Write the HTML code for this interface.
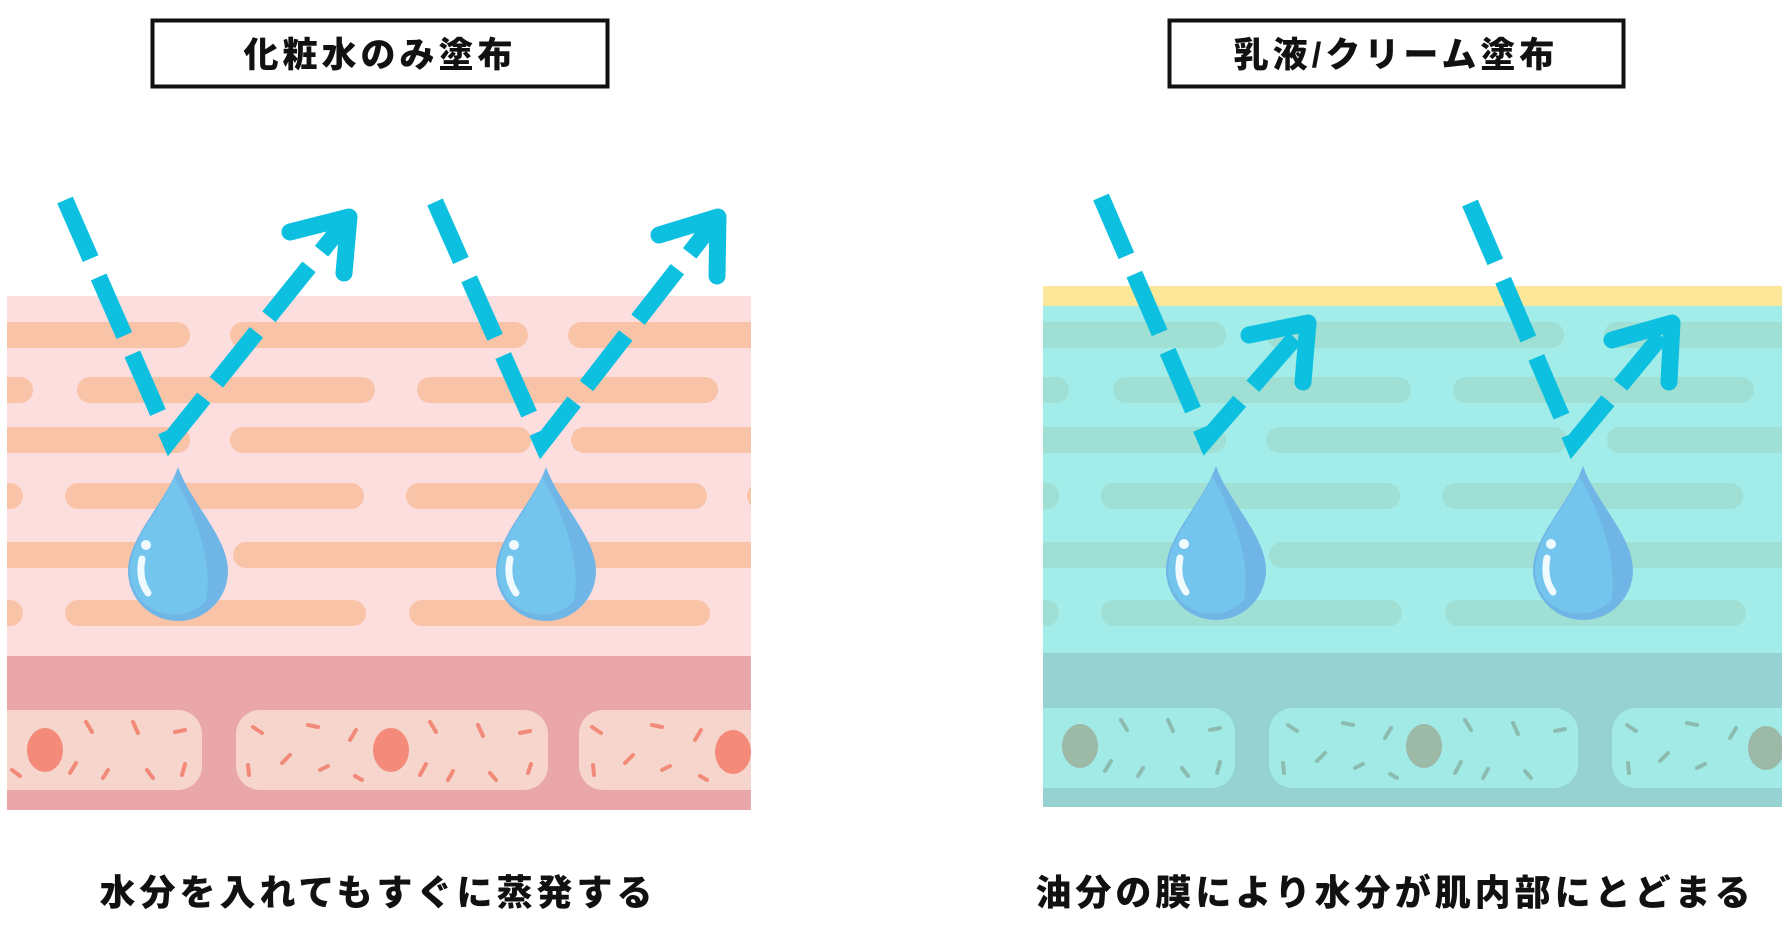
<!DOCTYPE html>
<html><head><meta charset="utf-8"><style>
html,body{margin:0;padding:0;background:#fff;}
body{width:1782px;height:921px;overflow:hidden;}
</style></head><body>
<svg width="1782" height="921" viewBox="0 0 1782 921" xmlns="http://www.w3.org/2000/svg">
<defs>
<clipPath id="cl"><rect x="7" y="296" width="744" height="514"/></clipPath>
<clipPath id="cr"><rect x="1043" y="296" width="739" height="511"/></clipPath>
<g id="streaksL">
<g stroke-linecap="round" stroke-width="26">
<line x1="-10" y1="335" x2="177" y2="335"/><line x1="243" y1="335" x2="515" y2="335"/><line x1="581" y1="335" x2="800" y2="335"/>
<line x1="-10" y1="390" x2="20" y2="390"/><line x1="90" y1="390" x2="362" y2="390"/><line x1="430" y1="390" x2="705" y2="390"/>
<line x1="-10" y1="440" x2="177" y2="440"/><line x1="243" y1="440" x2="518" y2="440"/><line x1="584" y1="440" x2="800" y2="440"/>
<line x1="-10" y1="496" x2="10" y2="496"/><line x1="78" y1="496" x2="351" y2="496"/><line x1="419" y1="496" x2="694" y2="496"/><line x1="760" y1="496" x2="800" y2="496"/>
<line x1="-10" y1="555" x2="177" y2="555"/><line x1="246" y1="555" x2="518" y2="555"/><line x1="584" y1="555" x2="800" y2="555"/>
<line x1="-10" y1="613" x2="10" y2="613"/><line x1="78" y1="613" x2="353" y2="613"/><line x1="422" y1="613" x2="697" y2="613"/>
</g></g>
<g id="drop">
<path d="M0,0 C12,35 50,70 50,104 A50,50 0 0 1 -50,104 C-50,70 -12,35 0,0Z" fill="#6fb6e6"/>
<path d="M-4,10 C-15,40 -48,70 -48,106 A44,44 0 0 0 28,134 C35,100 20,50 -4,10Z" fill="#74c5ee"/>
<circle cx="-32" cy="78" r="5" fill="#f0fbff"/>
<path d="M-36,92 Q-40,112 -30,126" stroke="#f0fbff" stroke-width="7" fill="none" stroke-linecap="round"/>
</g>
</defs>

<!-- LEFT -->
<rect x="152.5" y="20.5" width="455" height="66" fill="#fff" stroke="#111" stroke-width="4"/>
<text x="380" y="67" text-anchor="middle" font-family="Liberation Sans, Noto Sans CJK JP, sans-serif" font-weight="900" font-size="35" letter-spacing="4" fill="#111">化粧水のみ塗布</text>
<g clip-path="url(#cl)">
<rect x="7" y="296" width="744" height="360" fill="#fcdede"/>
<g stroke="#f9c3a7"><use href="#streaksL"/></g>
<rect x="7" y="656" width="744" height="154" fill="#e9a6ab"/>
<rect x="-20" y="710" width="222" height="80" rx="24" fill="#f5d5cc"/>
<rect x="236" y="710" width="312" height="80" rx="24" fill="#f5d5cc"/>
<rect x="579" y="710" width="200" height="80" rx="24" fill="#f5d5cc"/>
<ellipse cx="45" cy="750" rx="18" ry="22" fill="#f48a7a"/>
<ellipse cx="391" cy="750" rx="18" ry="22" fill="#f48a7a"/>
<ellipse cx="733" cy="752" rx="18" ry="22" fill="#f48a7a"/>
<g stroke="#f28a7a" stroke-width="4" stroke-linecap="round">
<line x1="86" y1="722" x2="92" y2="732"/><line x1="133" y1="722" x2="138" y2="733"/><line x1="175" y1="732" x2="185" y2="730"/><line x1="70" y1="773" x2="76" y2="763"/><line x1="103" y1="778" x2="108" y2="770"/><line x1="147" y1="770" x2="153" y2="778"/><line x1="182" y1="775" x2="185" y2="764"/><line x1="12" y1="770" x2="20" y2="776"/>
<line x1="253" y1="727" x2="262" y2="733"/><line x1="308" y1="725" x2="318" y2="727"/><line x1="350" y1="740" x2="356" y2="730"/><line x1="282" y1="763" x2="290" y2="755"/><line x1="248" y1="765" x2="249" y2="775"/><line x1="320" y1="770" x2="328" y2="766"/><line x1="355" y1="776" x2="362" y2="780"/><line x1="420" y1="775" x2="426" y2="764"/><line x1="448" y1="780" x2="453" y2="771"/><line x1="430" y1="722" x2="436" y2="732"/><line x1="478" y1="725" x2="483" y2="736"/><line x1="490" y1="773" x2="496" y2="780"/><line x1="520" y1="733" x2="530" y2="731"/><line x1="528" y1="773" x2="531" y2="764"/>
<line x1="592" y1="727" x2="601" y2="733"/><line x1="652" y1="725" x2="662" y2="727"/><line x1="695" y1="740" x2="701" y2="730"/><line x1="625" y1="763" x2="633" y2="755"/><line x1="593" y1="765" x2="594" y2="775"/><line x1="662" y1="770" x2="670" y2="766"/><line x1="700" y1="776" x2="707" y2="780"/>
</g>
</g>
<use href="#drop" x="178" y="467"/>
<use href="#drop" x="546" y="467"/>
<g stroke="#0ec0e0" stroke-width="17" fill="none">
<polyline points="65,200 170,440 349,217" stroke-dasharray="64 20" stroke-linejoin="miter"/>
<polyline points="290,232 349,217 344,273" stroke-linecap="round" stroke-linejoin="round"/>
<polyline points="435,202 542,443 718,217" stroke-dasharray="64 20"/>
<polyline points="659,235 718,217 717,276" stroke-linecap="round" stroke-linejoin="round"/>
</g>
<text x="378" y="905" text-anchor="middle" font-family="Liberation Sans, Noto Sans CJK JP, sans-serif" font-weight="900" font-size="36" letter-spacing="4" fill="#111">水分を入れてもすぐに蒸発する</text>

<!-- RIGHT -->
<rect x="1169.5" y="20.5" width="454" height="66" fill="#fff" stroke="#111" stroke-width="4"/>
<text x="1396" y="67" text-anchor="middle" font-family="Liberation Sans, Noto Sans CJK JP, sans-serif" font-weight="900" font-size="35" letter-spacing="4" fill="#111">乳液/クリーム塗布</text>
<rect x="1043" y="286" width="739" height="20" fill="#fde89a"/>
<g clip-path="url(#cr)">
<rect x="1043" y="306" width="739" height="347" fill="#a2ece9"/>
<g stroke="#a0dfd4" transform="translate(1036,0)"><use href="#streaksL"/></g>
<rect x="1043" y="653" width="739" height="154" fill="#97d2d2"/>
<rect x="1020" y="708" width="215" height="80" rx="24" fill="#a2eae6"/>
<rect x="1269" y="708" width="309" height="80" rx="24" fill="#a2eae6"/>
<rect x="1612" y="708" width="200" height="80" rx="24" fill="#a2eae6"/>
<ellipse cx="1080" cy="746" rx="18" ry="22" fill="#9cb8a7"/>
<ellipse cx="1424" cy="746" rx="18" ry="22" fill="#9cb8a7"/>
<ellipse cx="1766" cy="748" rx="18" ry="22" fill="#9cb8a7"/>
<g stroke="#8cbcb0" stroke-width="4" stroke-linecap="round">
<line x1="1121" y1="720" x2="1127" y2="730"/><line x1="1168" y1="720" x2="1173" y2="731"/><line x1="1210" y1="730" x2="1220" y2="728"/><line x1="1105" y1="771" x2="1111" y2="761"/><line x1="1138" y1="776" x2="1143" y2="768"/><line x1="1182" y1="768" x2="1188" y2="776"/><line x1="1217" y1="773" x2="1220" y2="762"/>
<line x1="1288" y1="725" x2="1297" y2="731"/><line x1="1343" y1="723" x2="1353" y2="725"/><line x1="1385" y1="738" x2="1391" y2="728"/><line x1="1317" y1="761" x2="1325" y2="753"/><line x1="1283" y1="763" x2="1284" y2="773"/><line x1="1355" y1="768" x2="1363" y2="764"/><line x1="1390" y1="774" x2="1397" y2="778"/><line x1="1455" y1="773" x2="1461" y2="762"/><line x1="1483" y1="778" x2="1488" y2="769"/><line x1="1465" y1="720" x2="1471" y2="730"/><line x1="1513" y1="723" x2="1518" y2="734"/><line x1="1525" y1="771" x2="1531" y2="778"/><line x1="1555" y1="731" x2="1565" y2="729"/>
<line x1="1627" y1="725" x2="1636" y2="731"/><line x1="1687" y1="723" x2="1697" y2="725"/><line x1="1730" y1="738" x2="1736" y2="728"/><line x1="1660" y1="761" x2="1668" y2="753"/><line x1="1628" y1="763" x2="1629" y2="773"/><line x1="1697" y1="768" x2="1705" y2="764"/>
</g>
</g>
<use href="#drop" x="1216" y="466"/>
<use href="#drop" x="1583" y="466"/>
<g stroke="#0ec0e0" stroke-width="17" fill="none">
<polyline points="1101,197 1206,440 1308,323" stroke-dasharray="64 20"/>
<polyline points="1249,335 1308,323 1303,382" stroke-linecap="round" stroke-linejoin="round"/>
<polyline points="1470,203 1573,443 1672,323" stroke-dasharray="64 20"/>
<polyline points="1612,340 1672,323 1669,382" stroke-linecap="round" stroke-linejoin="round"/>
</g>
<text x="1395" y="905" text-anchor="middle" font-family="Liberation Sans, Noto Sans CJK JP, sans-serif" font-weight="900" font-size="36" letter-spacing="4" fill="#111">油分の膜により水分が肌内部にとどまる</text>
</svg>
</body></html>
